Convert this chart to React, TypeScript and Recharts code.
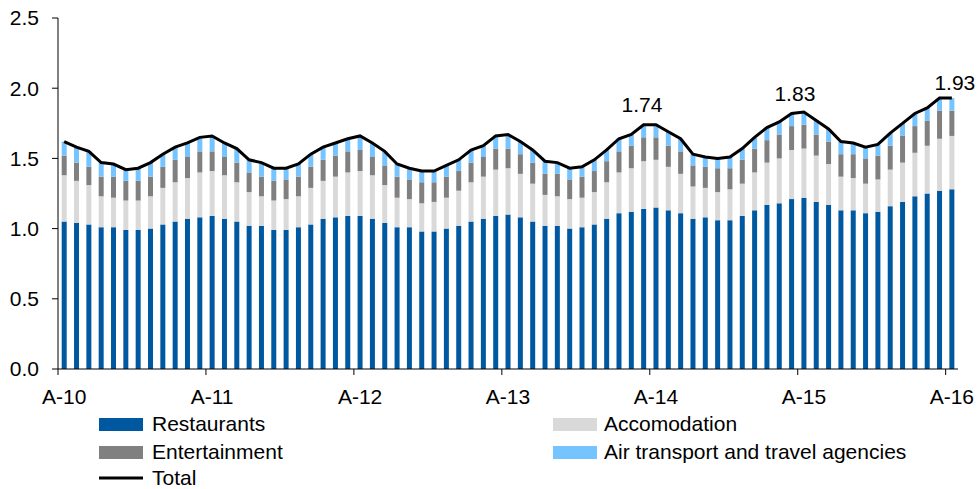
import React from 'react';
import { ComposedChart, Bar, Line, XAxis, YAxis, LabelList } from 'recharts';

const FONT = '"Liberation Sans", Arial, sans-serif';

// months Apr-10 .. Apr-16
const monthNames = ['Jan', 'Feb', 'Mar', 'Apr', 'May', 'Jun', 'Jul', 'Aug', 'Sep', 'Oct', 'Nov', 'Dec'];
const months: string[] = [];
for (let i = 0; i < 73; i++) {
  const m = (3 + i) % 12;
  const y = 10 + Math.floor((3 + i) / 12);
  months.push(`${monthNames[m]}-${y}`);
}

const aprilTicks = ['Apr-10', 'Apr-11', 'Apr-12', 'Apr-13', 'Apr-14', 'Apr-15', 'Apr-16'];
const tickLabels = ['A-10', 'A-11', 'A-12', 'A-13', 'A-14', 'A-15', 'A-16'];
const yTicks = [0, 0.5, 1, 1.5, 2, 2.5];

const restaurants = [
  1.05, 1.04, 1.03, 1.01, 1.01, 0.99, 0.99, 1.0, 1.03, 1.05, 1.07, 1.08,
  1.09, 1.07, 1.05, 1.02, 1.02, 0.99, 0.99, 1.01, 1.03, 1.07, 1.08, 1.09,
  1.09, 1.07, 1.04, 1.01, 1.01, 0.98, 0.98, 1.0, 1.02, 1.05, 1.07, 1.09,
  1.1, 1.08, 1.05, 1.02, 1.02, 1.0, 1.01, 1.03, 1.07, 1.11, 1.12, 1.14,
  1.15, 1.13, 1.11, 1.07, 1.08, 1.06, 1.06, 1.09, 1.13, 1.17, 1.18, 1.21,
  1.22, 1.19, 1.17, 1.13, 1.13, 1.11, 1.12, 1.16, 1.19, 1.23, 1.25, 1.27,
  1.28,
];
const accommodation = [
  0.33, 0.3, 0.28, 0.22, 0.21, 0.21, 0.21, 0.23, 0.26, 0.28, 0.29, 0.32,
  0.32, 0.31, 0.28, 0.24, 0.21, 0.21, 0.22, 0.22, 0.26, 0.27, 0.29, 0.31,
  0.32, 0.31, 0.27, 0.21, 0.2, 0.2, 0.21, 0.22, 0.25, 0.28, 0.3, 0.33,
  0.33, 0.31, 0.27, 0.22, 0.21, 0.21, 0.21, 0.23, 0.26, 0.29, 0.31, 0.34,
  0.34, 0.31, 0.28, 0.23, 0.21, 0.2, 0.22, 0.23, 0.27, 0.3, 0.32, 0.35,
  0.35, 0.33, 0.29, 0.24, 0.23, 0.21, 0.23, 0.26, 0.28, 0.31, 0.34, 0.37,
  0.38,
];
const entertainment = [
  0.14, 0.13, 0.13, 0.14, 0.15, 0.14, 0.14, 0.14, 0.15, 0.16, 0.15, 0.15,
  0.14, 0.13, 0.14, 0.14, 0.14, 0.14, 0.14, 0.14, 0.15, 0.15, 0.15, 0.15,
  0.15, 0.13, 0.14, 0.15, 0.14, 0.15, 0.14, 0.15, 0.14, 0.14, 0.14, 0.15,
  0.14, 0.14, 0.15, 0.15, 0.16, 0.14, 0.15, 0.15, 0.15, 0.15, 0.16, 0.17,
  0.16, 0.15, 0.16, 0.15, 0.15, 0.17, 0.15, 0.17, 0.17, 0.16, 0.17, 0.17,
  0.17, 0.15, 0.16, 0.16, 0.17, 0.18, 0.17, 0.17, 0.19, 0.19, 0.18, 0.2,
  0.18,
];
const airTravel = [
  0.1, 0.11, 0.11, 0.1, 0.09, 0.08, 0.09, 0.1, 0.09, 0.09, 0.1, 0.1,
  0.11, 0.1, 0.1, 0.09, 0.1, 0.09, 0.08, 0.09, 0.09, 0.09, 0.09, 0.09,
  0.1, 0.1, 0.1, 0.09, 0.08, 0.08, 0.08, 0.08, 0.08, 0.09, 0.08, 0.09,
  0.1, 0.09, 0.09, 0.09, 0.08, 0.08, 0.07, 0.08, 0.08, 0.09, 0.08, 0.09,
  0.09, 0.1, 0.09, 0.08, 0.07, 0.07, 0.08, 0.08, 0.08, 0.09, 0.09, 0.09,
  0.09, 0.1, 0.09, 0.09, 0.08, 0.08, 0.08, 0.09, 0.09, 0.09, 0.09, 0.09,
  0.09,
];
const total = [
  1.62, 1.58, 1.55, 1.47, 1.46, 1.42, 1.43, 1.47, 1.53, 1.58, 1.61, 1.65,
  1.66, 1.61, 1.57, 1.49, 1.47, 1.43, 1.43, 1.46, 1.53, 1.58, 1.61, 1.64,
  1.66, 1.61, 1.55, 1.46, 1.43, 1.41, 1.41, 1.45, 1.49, 1.56, 1.59, 1.66,
  1.67, 1.62, 1.56, 1.48, 1.47, 1.43, 1.44, 1.49, 1.56, 1.64, 1.67, 1.74,
  1.74, 1.69, 1.64, 1.53, 1.51, 1.5, 1.51, 1.57, 1.65, 1.72, 1.76, 1.82,
  1.83, 1.77, 1.71, 1.62, 1.61, 1.58, 1.6, 1.68, 1.75, 1.82, 1.86, 1.93,
  1.93,
];

// annotated points on the total line
const peakIndex = [48, 60, 72];
const peakText = ['1.74', '1.83', '1.93'];
const peakShift = [[-14, -13], [-9, -11], [3, -8]];

const COLORS = {
  restaurants: '#0059A0',
  accommodation: '#D9D9D9',
  entertainment: '#808080',
  air: '#75C3FF',
};

const W = 979;
const H = 489;
const MARGIN = { top: 18, right: 21, left: 0, bottom: 89 };
const Y_WIDTH = 58;
const BAND = (W - MARGIN.right - Y_WIDTH) / months.length;
const TICK_SIZE = 6;
const TICK_MARGIN = 14;

const data = months.map((m, i) => ({
  month: m,
  restaurants: restaurants[i],
  accommodation: accommodation[i],
  entertainment: entertainment[i],
  air: airTravel[i],
  total: total[i],
}));

// ticks sit on the left edge of the April bar, labels centred on the bar
function MonthTick(props: any) {
  const { x, y, payload } = props;
  const i = aprilTicks.indexOf(payload.value);
  if (i < 0) return null;
  const axisY = y - TICK_SIZE - TICK_MARGIN;
  const edge = x - BAND / 2;
  return (
    <g>
      <line x1={edge} x2={edge} y1={axisY} y2={axisY + TICK_SIZE} stroke="#000" />
      <text x={x} y={y} dy="0.71em" textAnchor="middle" fontSize={21} fontFamily={FONT} fill="#000">
        {tickLabels[i]}
      </text>
    </g>
  );
}

function PeakLabel(props: any) {
  const { x, y, index } = props;
  const k = peakIndex.indexOf(index);
  if (k < 0) return null;
  return (
    <text
      x={x + peakShift[k][0]}
      y={y + peakShift[k][1]}
      textAnchor="middle"
      fontSize={21}
      fontFamily={FONT}
      fill="#000"
    >
      {peakText[k]}
    </text>
  );
}

function Legend() {
  const txt = { fontSize: 21, fontFamily: FONT, fill: '#000' };
  return (
    <svg width={W} height={489} style={{ position: 'absolute', left: 0, top: 0, pointerEvents: 'none' }}>
      <rect x={99} y={418} width={44} height={13} fill={COLORS.restaurants} />
      <text x={152} y={431} {...txt}>Restaurants</text>
      <rect x={99} y={446} width={44} height={13} fill={COLORS.entertainment} />
      <text x={152} y={459} {...txt}>Entertainment</text>
      <line x1={99} x2={143} y1={478} y2={478} stroke="#000" strokeWidth={3} />
      <text x={152} y={485} {...txt}>Total</text>
      <rect x={553} y={418} width={44} height={13} fill={COLORS.accommodation} />
      <text x={604} y={431} {...txt}>Accomodation</text>
      <rect x={553} y={446} width={44} height={13} fill={COLORS.air} />
      <text x={604} y={459} {...txt}>Air transport and travel agencies</text>
    </svg>
  );
}

export default function App() {
  return (
    <div style={{ position: 'absolute', left: 0, top: 0, width: W, height: H, background: '#fff' }}>
      <ComposedChart width={W} height={H} data={data} margin={MARGIN} barCategoryGap="30%">
        <XAxis
          dataKey="month"
          interval={0}
          height={31}
          tick={<MonthTick />}
          tickLine={false}
          tickSize={TICK_SIZE}
          tickMargin={TICK_MARGIN}
          axisLine={{ stroke: '#000' }}
        />
        <YAxis
          width={Y_WIDTH}
          domain={[0, 2.5]}
          ticks={yTicks}
          interval={0}
          tickFormatter={(v: number) => v.toFixed(1)}
          tick={{ fontSize: 21, fontFamily: FONT, fill: '#000' }}
          tickSize={TICK_SIZE}
          tickMargin={13}
          tickLine={{ stroke: '#000' }}
          axisLine={{ stroke: '#000' }}
        />
        <Bar dataKey="restaurants" stackId="s" fill={COLORS.restaurants} isAnimationActive={false} />
        <Bar dataKey="accommodation" stackId="s" fill={COLORS.accommodation} isAnimationActive={false} />
        <Bar dataKey="entertainment" stackId="s" fill={COLORS.entertainment} isAnimationActive={false} />
        <Bar dataKey="air" stackId="s" fill={COLORS.air} isAnimationActive={false} />
        <Line
          type="linear"
          dataKey="total"
          stroke="#000"
          strokeWidth={3}
          dot={false}
          activeDot={false}
          isAnimationActive={false}
        >
          <LabelList dataKey="total" content={<PeakLabel />} />
        </Line>
      </ComposedChart>
      <Legend />
    </div>
  );
}
